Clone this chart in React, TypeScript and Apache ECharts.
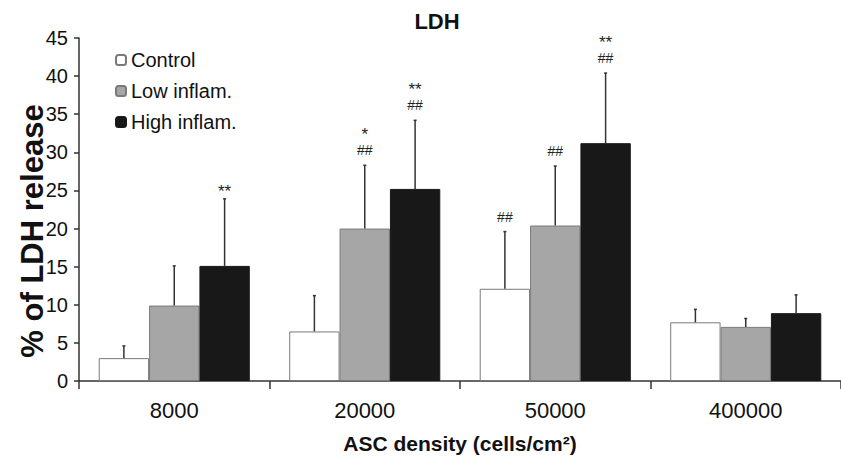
import React, { useEffect, useRef } from "react";
import * as echarts from "echarts";

const categories = ["8000", "20000", "50000", "400000"];
const seriesNames = ["Control", "Low inflam.", "High inflam."];
const controlValues = [3.0, 6.5, 12.1, 7.7];
const lowValues = [9.9, 20.0, 20.4, 7.1];
const highValues = [15.1, 25.2, 31.2, 8.9];
const controlErrTop = [4.6, 11.2, 19.6, 9.4];
const lowErrTop = [15.1, 28.3, 28.2, 8.2];
const highErrTop = [23.9, 34.2, 40.4, 11.3];
const controlMarks = ["", "", "##", ""];
const lowMarks = ["", "*\n##", "##", ""];
const highMarks = ["**", "**\n##", "**\n##", ""];
const yMin = 0;
const yMax = 45;
const yInterval = 5;

const FONT = "'Liberation Sans', Arial, sans-serif";
const GAP = 0.207;

const fills = ["#ffffff", "#a6a6a6", "#181818"];
const borders = ["#7a7a7a", "#7a7a7a", "#181818"];

function errSeries(k: number, values: number[], tops: number[], marks: string[]) {
  return {
    type: "custom",
    name: seriesNames[k] + " err",
    z: 5,
    data: categories.map((_, i) => [i, values[i], tops[i]]),
    renderItem: (params: any, api: any) => {
      const i = api.value(0);
      const band = api.size([1, 0])[0];
      const bw = (band * (1 - GAP)) / 3;
      const base = api.coord([i, api.value(1)]);
      const tp = api.coord([i, api.value(2)]);
      const x = base[0] + (k - 1) * bw;
      const children: any[] = [
        {
          type: "line",
          shape: { x1: x, y1: base[1], x2: x, y2: tp[1] },
          style: { stroke: "#333", lineWidth: 1.5 },
        },
        {
          type: "line",
          shape: { x1: x - 1.5, y1: tp[1], x2: x + 1.5, y2: tp[1] },
          style: { stroke: "#333", lineWidth: 1.5 },
        },
      ];
      const m = marks[params.dataIndex];
      if (m) {
        const lines = m.split("\n").reverse();
        lines.forEach((ln: string, j: number) => {
          const isHash = ln.indexOf("#") >= 0;
          let y: number;
          if (j === 0) y = isHash ? tp[1] - 15 : tp[1] - 7;
          else y = tp[1] - 31;
          children.push({
            type: "text",
            style: {
              text: ln,
              x: x,
              y: y,
              align: "center",
              verticalAlign: "middle",
              font: isHash ? `14px ${FONT}` : `17px ${FONT}`,
              fill: "#222",
            },
          });
        });
      }
      return { type: "group", children };
    },
  };
}

function barSeries(k: number, values: number[]) {
  return {
    type: "bar",
    name: seriesNames[k],
    data: values,
    barGap: "0%",
    barCategoryGap: GAP * 100 + "%",
    itemStyle: { color: fills[k], borderColor: borders[k], borderWidth: 1 },
  };
}

export default function App() {
  const ref = useRef<HTMLDivElement>(null);
  useEffect(() => {
    const chart = echarts.init(ref.current!, null, { renderer: "svg" });
    chart.setOption({
      animation: false,
      backgroundColor: "#ffffff",
      textStyle: { fontFamily: FONT },
      grid: { left: 79, right: -9, top: 38, bottom: 80, containLabel: false },
      legend: {
        orient: "vertical",
        left: 110,
        top: 45,
        itemWidth: 10,
        itemHeight: 10,
        itemGap: 11,
        data: seriesNames,
        textStyle: { fontSize: 20, color: "#111", fontFamily: FONT },
      },
      graphic: [
        {
          type: "text",
          x: 437,
          y: 21,
          style: {
            text: "LDH",
            font: `bold 22px ${FONT}`,
            fill: "#111",
            align: "center",
            verticalAlign: "middle",
          },
        },
        {
          type: "text",
          x: 32,
          y: 231,
          rotation: Math.PI / 2,
          style: {
            text: "% of LDH release",
            font: `bold 31px ${FONT}`,
            fill: "#111",
            align: "center",
            verticalAlign: "middle",
          },
        },
      ],
      xAxis: {
        type: "category",
        data: categories,
        name: "ASC density (cells/cm²)",
        nameLocation: "middle",
        nameGap: 52,
        nameTextStyle: { fontSize: 21, fontWeight: "bold", color: "#111", fontFamily: FONT },
        axisLine: { lineStyle: { color: "#333", width: 1.5 } },
        axisTick: { show: true, inside: false, length: 8, lineStyle: { color: "#333", width: 1.5 } },
        axisLabel: { fontSize: 22, color: "#111", margin: 18, fontFamily: FONT },
      },
      yAxis: {
        type: "value",
        min: yMin,
        max: yMax,
        interval: yInterval,
        splitLine: { show: false },
        axisLine: { show: true, lineStyle: { color: "#333", width: 1.5 } },
        axisTick: { show: true, inside: false, length: 5, lineStyle: { color: "#333", width: 1.5 } },
        axisLabel: { fontSize: 20, color: "#111", margin: 11, fontFamily: FONT },
      },
      series: [
        barSeries(0, controlValues),
        barSeries(1, lowValues),
        barSeries(2, highValues),
        errSeries(0, controlValues, controlErrTop, controlMarks),
        errSeries(1, lowValues, lowErrTop, lowMarks),
        errSeries(2, highValues, highErrTop, highMarks),
      ],
    });
    return () => chart.dispose();
  }, []);
  return (
    <div
      ref={ref}
      style={{ position: "absolute", left: 0, top: 0, width: 841, height: 461, background: "#fff" }}
    />
  );
}
